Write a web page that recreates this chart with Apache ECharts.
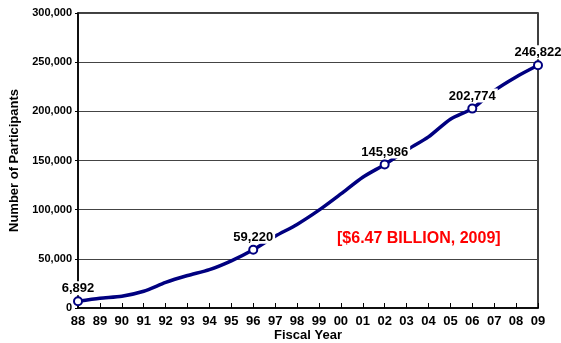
<!DOCTYPE html>
<html>
<head>
<meta charset="utf-8">
<script src="https://cdn.jsdelivr.net/npm/echarts@6/dist/echarts.min.js"></script>
<style>
  html, body { margin: 0; padding: 0; background: #fff; }
  #chart { width: 561px; height: 343px; }
</style>
</head>
<body>
<div id="chart"></div>
<script>
// Fiscal years (two-digit) and participant counts
const years = ['88','89','90','91','92','93','94','95','96','97','98','99','00','01','02','03','04','05','06','07','08','09'];
const participants = [6892, 10000, 12000, 17000, 26000, 33000, 39000, 48000, 59220, 73000, 85000, 99500, 116000, 133000, 145986, 160500, 174000, 192000, 202774, 221000, 235000, 246822];
// Years whose values are marked and labelled on the line
const labelledYears = ['88', '96', '02', '06', '09'];
const yTicks = { min: 0, max: 300000, interval: 50000 };
const note = '[$6.47 BILLION, 2009]';

const FONT = 'Liberation Sans, Arial, sans-serif';
const NAVY = '#000080';

const seriesData = participants.map((v, i) => {
  if (labelledYears.includes(years[i])) {
    return {
      value: v,
      symbol: 'circle',
      symbolSize: 8,
      label: {
        show: true,
        position: 'top',
        distance: 1,
        formatter: p => p.value.toLocaleString('en-US'),
        fontFamily: FONT,
        fontWeight: 'bold',
        fontSize: 13,
        color: '#000',
        backgroundColor: '#fff',
        padding: [1, 2, 0, 2]
      }
    };
  }
  return { value: v, symbol: 'none' };
});

const chart = echarts.init(document.getElementById('chart'));
chart.setOption({
  animation: false,
  grid: {
    left: 78, right: 23, top: 13, bottom: 35,
    outerBoundsMode: 'none',
    containLabel: false,
    show: true, borderColor: '#000', borderWidth: 1.5, backgroundColor: 'transparent'
  },
  xAxis: {
    type: 'category',
    data: years,
    boundaryGap: false,
    name: 'Fiscal Year',
    nameLocation: 'middle',
    nameGap: 21,
    nameMoveOverlap: false,
    nameTextStyle: { fontFamily: FONT, fontWeight: 'bold', fontSize: 13, color: '#000' },
    axisLine: { lineStyle: { color: '#000', width: 1.5 } },
    axisTick: { inside: true, length: 5, alignWithLabel: true, lineStyle: { color: '#000' } },
    axisLabel: { fontFamily: FONT, fontWeight: 'bold', fontSize: 13, color: '#000', margin: 7, interval: 0 },
    splitLine: { show: false }
  },
  yAxis: {
    type: 'value',
    min: yTicks.min, max: yTicks.max, interval: yTicks.interval,
    name: 'Number of Participants',
    nameLocation: 'middle',
    nameGap: 57,
    nameTextStyle: { fontFamily: FONT, fontWeight: 'bold', fontSize: 13, color: '#000' },
    axisLine: { show: true, lineStyle: { color: '#000', width: 1.5 } },
    axisTick: { show: true, length: 3, lineStyle: { color: '#000' } },
    axisLabel: {
      fontFamily: FONT, fontWeight: 'bold', fontSize: 11, color: '#000', margin: 6,
      formatter: v => v.toLocaleString('en-US')
    },
    splitLine: { show: true, lineStyle: { color: '#444', width: 1.2 } }
  },
  series: [{
    type: 'line',
    data: seriesData,
    smooth: 0.25,
    showAllSymbol: true,
    lineStyle: { color: NAVY, width: 3.5 },
    itemStyle: { color: '#fff', borderColor: NAVY, borderWidth: 2 },
    z: 3
  }],
  graphic: [{
    type: 'text',
    left: 337, top: 231,
    style: { text: note, fontFamily: FONT, fontWeight: 'bold', fontSize: 16, fill: '#ff0000' }
  }]
});
</script>
</body>
</html>
